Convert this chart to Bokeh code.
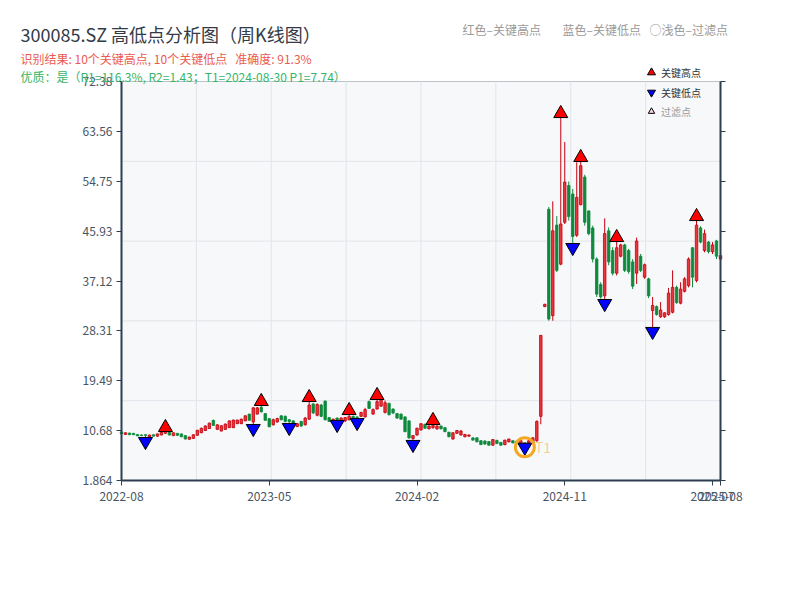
import numpy as np
from bokeh.plotting import figure
from bokeh.models import (ColumnDataSource, Range1d, FixedTicker, LinearAxis, Label,
                          Legend, LegendItem, CustomJSTickFormatter, BoxAnnotation)
from bokeh.core.properties import value
from bokeh.embed import file_html
from bokeh.resources import INLINE

# ---------------- data ----------------
open_ = [10.45, 10.00, 10.25, 10.20, 10.00, 9.90, 9.95, 9.60, 9.95, 9.70,
         9.90, 10.20, 10.40, 9.80, 10.20, 10.10, 9.80, 9.15, 9.30, 9.85,
         10.30, 10.70, 11.05, 12.50, 10.90, 10.60, 10.90, 11.20, 11.20, 11.90,
         11.90, 12.40, 13.60, 12.20, 13.60, 14.80, 13.70, 12.80, 11.70, 12.20,
         13.30, 13.20, 12.60, 12.40, 11.40, 12.30, 11.70, 12.70, 15.40, 13.40,
         15.20, 15.90, 13.00, 12.10, 12.90, 12.30, 12.40, 12.60, 13.20, 13.10,
         13.20, 13.10, 15.80, 13.60, 14.50, 15.00, 13.90, 15.50, 14.50, 13.70,
         13.60, 13.10, 12.40, 9.30, 9.90, 10.80, 11.80, 11.00, 11.20, 11.00,
         11.50, 11.20, 10.40, 9.20, 10.20, 9.90, 9.60, 9.70, 9.40, 9.40,
         8.90, 8.85, 8.75, 8.10, 8.95, 8.60, 8.20, 8.70, 8.90, 8.80,
         8.40, 8.50, 8.50, 8.60, 8.90, 13.20, 32.60, 49.80, 31.00, 47.00,
         40.10, 47.50, 54.00, 52.50, 45.20, 50.60, 55.50, 49.50, 46.50, 41.00,
         36.50, 34.50, 46.00, 42.50, 38.50, 41.50, 43.50, 42.50, 40.50, 38.50,
         41.50, 37.80, 37.50, 31.90, 32.60, 30.80, 30.80, 31.20, 31.60, 36.00,
         33.20, 35.30, 36.30, 43.00, 37.20, 46.50, 42.50, 44.00, 42.30, 44.20,
         41.00]
close_ = [10.10, 10.30, 9.95, 9.95, 9.75, 9.80, 9.85, 9.90, 9.70, 10.10,
          10.40, 10.80, 9.90, 10.30, 9.85, 9.60, 9.20, 9.55, 9.95, 10.75,
          11.10, 11.50, 12.00, 11.60, 11.70, 11.55, 11.85, 12.40, 12.55, 12.55,
          12.70, 13.30, 12.50, 14.70, 14.70, 14.00, 12.50, 11.35, 12.60, 12.80,
          12.60, 12.30, 12.30, 12.00, 11.90, 11.50, 12.90, 15.20, 13.80, 15.30,
          13.20, 12.60, 12.30, 12.70, 12.60, 12.90, 13.00, 13.20, 12.90, 13.00,
          13.90, 14.40, 14.60, 14.40, 15.80, 16.50, 15.60, 13.50, 13.80, 12.90,
          12.70, 10.50, 9.40, 9.80, 11.10, 11.90, 11.10, 11.50, 11.60, 11.50,
          11.00, 10.50, 9.60, 10.30, 10.70, 10.60, 10.00, 9.90, 9.00, 8.70,
          8.20, 8.30, 8.10, 9.10, 8.40, 8.10, 9.00, 9.20, 8.50, 8.40,
          8.90, 8.00, 8.90, 9.40, 12.30, 27.50, 33.00, 30.40, 46.00, 39.00,
          47.20, 54.60, 48.50, 45.00, 51.90, 57.50, 47.50, 45.50, 41.00, 34.80,
          34.30, 45.50, 40.50, 38.50, 43.00, 43.50, 39.00, 38.80, 36.20, 44.20,
          39.00, 40.00, 34.50, 32.80, 31.20, 32.00, 31.50, 35.00, 36.00, 33.30,
          35.70, 37.50, 41.00, 37.80, 47.00, 44.00, 45.50, 42.30, 43.50, 41.50,
          41.60]
low_ = [10.00, 9.95, 9.90, 9.90, 9.72, 9.75, 8.76, 9.55, 9.65, 9.60,
        9.85, 10.10, 9.85, 9.70, 9.75, 9.50, 9.10, 9.10, 9.25, 9.80,
        10.25, 10.65, 11.00, 11.55, 10.80, 10.55, 10.80, 11.15, 11.15, 11.85,
        11.85, 12.35, 12.45, 11.05, 13.55, 13.90, 12.45, 11.30, 11.60, 12.10,
        12.50, 12.15, 11.23, 11.90, 11.30, 11.30, 11.60, 12.60, 13.65, 13.20,
        13.05, 12.47, 12.20, 12.00, 11.76, 12.20, 12.20, 12.50, 12.80, 12.11,
        13.10, 13.00, 14.50, 13.50, 14.40, 14.90, 13.70, 13.35, 13.60, 12.76,
        12.60, 10.40, 9.23, 8.23, 9.80, 10.70, 11.00, 10.90, 11.00, 10.80,
        10.90, 10.40, 9.50, 9.05, 10.10, 9.80, 9.50, 9.60, 8.93, 8.60,
        8.15, 8.20, 8.05, 8.00, 8.30, 8.00, 8.10, 8.60, 8.45, 8.35,
        8.30, 7.74, 8.40, 8.55, 8.70, 11.80, 32.50, 30.10, 30.10, 38.70,
        39.90, 47.20, 47.80, 43.04, 44.90, 50.50, 46.90, 45.20, 40.40, 34.30,
        34.00, 33.14, 39.90, 38.10, 38.10, 41.30, 38.70, 38.40, 35.70, 36.60,
        38.70, 37.50, 34.10, 28.20, 31.00, 30.60, 30.60, 31.00, 31.40, 33.10,
        33.00, 35.10, 36.00, 36.00, 36.90, 43.80, 42.20, 42.00, 41.90, 41.00,
        40.90]
high_ = [10.50, 10.35, 10.30, 10.25, 10.05, 10.00, 10.00, 9.95, 10.00, 10.15,
         10.45, 11.23, 10.45, 10.35, 10.25, 10.15, 9.85, 9.60, 10.00, 10.80,
         11.20, 11.60, 12.10, 12.60, 11.80, 11.60, 11.90, 12.50, 12.60, 12.60,
         12.80, 13.35, 13.65, 14.85, 14.85, 15.83, 13.75, 12.85, 12.80, 12.95,
         13.35, 13.35, 12.70, 12.50, 12.00, 12.40, 13.10, 16.53, 15.50, 15.50,
         15.40, 16.00, 13.06, 12.80, 13.00, 13.06, 13.06, 14.23, 13.30, 13.20,
         14.00, 14.70, 16.00, 14.60, 16.89, 16.80, 16.00, 15.60, 14.60, 13.80,
         13.70, 13.20, 12.50, 9.90, 11.20, 12.00, 11.90, 11.60, 12.47, 11.60,
         11.55, 11.30, 10.45, 10.40, 10.80, 10.80, 10.10, 10.00, 9.50, 9.50,
         8.95, 8.95, 8.80, 9.20, 9.05, 8.65, 9.05, 9.25, 8.95, 8.85,
         8.95, 8.60, 9.00, 9.50, 12.50, 27.60, 33.10, 50.20, 51.20, 48.60,
         66.72, 61.70, 54.70, 53.40, 58.10, 58.95, 55.90, 49.60, 46.90, 41.30,
         36.90, 48.20, 46.60, 43.10, 44.81, 43.70, 43.70, 42.80, 41.00, 44.80,
         41.90, 40.20, 37.70, 34.30, 32.80, 33.40, 31.60, 35.90, 39.00, 36.30,
         36.90, 37.80, 41.30, 43.10, 48.52, 46.80, 46.20, 44.20, 44.00, 44.40,
         42.00]

key_high_idx = [11, 35, 47, 57, 64, 78, 110, 115, 124, 144]
key_low_idx = [6, 33, 42, 54, 59, 73, 101, 113, 121, 133]
t1_idx = 101
p1_value = 7.74

x_tick_idx = [0, 37, 74, 111, 148, 150]
x_tick_labels = ["2022-08", "2023-05", "2024-02", "2024-11", "2025-07", "2025-08"]
y_min, y_max = 1.864, 72.38
y_tick_labels = ["1.864", "10.68", "19.49", "28.31", "37.12", "45.93", "54.75", "63.56", "72.38"]

title_text = "300085.SZ 高低点分析图（周K线图）"
sub1_text = "识别结果: 10个关键高点, 10个关键低点\u00a0\u00a0\u00a0准确度: 91.3%"
sub2_text = "优质：是（R1=116.3%, R2=1.43；T1=2024-08-30 P1=7.74）"
hint_texts = ["红色–关键高点", "蓝色–关键低点", "○浅色–过滤点"]
legend_texts = ["关键高点", "关键低点", "过滤点"]

# ---------------- layout / styles ----------------
W, H = 784, 584                 # canvas size
PL, PR, PT, PB = 121, 720, 81, 480   # plot box in canvas pixels
FONT = value("Noto Sans CJK SC")
RED_FILL, RED_LINE = "#e8363c", "#c4000e"
GREEN = "#0d8a3c"
AXIS_COLOR = "#2c3e50"
LABEL_COLOR = "#4a5563"
GRID_COLOR = "#e1e4e9"

n = len(open_)
x_lo, x_hi = 0, n - 1
ux = (PR - PL) / (x_hi - x_lo)          # px per x unit
uy = (PB - PT) / (y_max - y_min)        # px per y unit
x_range = Range1d(x_lo - PL / ux, x_hi + (W - PR) / ux)
y_range = Range1d(y_min - (H - PB) / uy, y_max + PT / uy)

idx = list(range(n))
up = [c >= o for o, c in zip(open_, close_)]

def subset(mask):
    return ColumnDataSource(dict(
        x=[i for i in idx if mask[i]],
        o=[open_[i] for i in idx if mask[i]],
        c=[close_[i] for i in idx if mask[i]],
        l=[low_[i] for i in idx if mask[i]],
        h=[high_[i] for i in idx if mask[i]],
    ))

src_up = subset(up)
src_dn = subset([not u for u in up])

p = figure(width=W, height=H, output_backend="svg", toolbar_location=None,
           x_range=x_range, y_range=y_range,
           min_border_left=0, min_border_right=0, min_border_top=0, min_border_bottom=0)
p.background_fill_color = "white"
p.border_fill_color = "white"
p.outline_line_color = None
p.xgrid.visible = False
p.ygrid.visible = False

# plot box background and border
p.add_layout(BoxAnnotation(left=x_lo, right=x_hi, bottom=y_min, top=y_max,
                           fill_color="#f7f8fa", fill_alpha=1, line_color=AXIS_COLOR,
                           line_width=1, level="underlay"))

# grid lines: equal divisions of the plot box
gx = list(np.linspace(x_lo, x_hi, 9))[1:-1]
gy = list(np.linspace(y_min, y_max, 6))[1:-1]
p.segment(x0=gx, y0=[y_min] * len(gx), x1=gx, y1=[y_max] * len(gx),
          line_color=GRID_COLOR, line_width=1)
p.segment(x0=[x_lo] * len(gy), y0=gy, x1=[x_hi] * len(gy), y1=gy,
          line_color=GRID_COLOR, line_width=1)

# axes, placed at the plot box edges
y_ticks = list(np.linspace(y_min, y_max, len(y_tick_labels)))
ax_y = p.yaxis[0]
ax_y.fixed_location = x_lo
ax_y.bounds = (y_min, y_max)
ax_y.ticker = FixedTicker(ticks=y_ticks)
ax_y.formatter = CustomJSTickFormatter(args=dict(labels=y_tick_labels), code="return labels[index];")
ax_x = p.xaxis[0]
ax_x.fixed_location = y_min
ax_x.bounds = (x_lo, x_hi)
ax_x.ticker = FixedTicker(ticks=x_tick_idx)
ax_x.major_label_overrides = {i: s for i, s in zip(x_tick_idx, x_tick_labels)}
ax_r = LinearAxis(ticker=FixedTicker(ticks=y_ticks), fixed_location=x_hi, bounds=(y_min, y_max),
                  formatter=CustomJSTickFormatter(code="return '';"))
p.add_layout(ax_r, "right")
for ax in (ax_x, ax_y, ax_r):
    ax.axis_line_color = AXIS_COLOR
    ax.axis_line_width = 2
    ax.major_tick_line_color = AXIS_COLOR
    ax.major_tick_line_width = 1
    ax.major_tick_out = 5
    ax.major_tick_in = 0
    ax.minor_tick_line_color = None
    ax.major_label_text_color = LABEL_COLOR
    ax.major_label_text_font = "Noto Sans CJK SC"
    ax.major_label_text_font_size = "12px"
ax_y.major_label_standoff = 4
ax_x.major_label_standoff = 6

# candles
p.segment(x0="x", y0="l", x1="x", y1="h", source=src_up, line_color=RED_LINE, line_width=1)
p.vbar(x="x", bottom="o", top="c", width=0.62, source=src_up,
       fill_color=RED_FILL, line_color=RED_LINE, line_width=0.8)
p.segment(x0="x", y0="l", x1="x", y1="h", source=src_dn, line_color=GREEN, line_width=1)
p.vbar(x="x", bottom="c", top="o", width=0.62, source=src_dn,
       fill_color=GREEN, line_color=GREEN, line_width=0.8)

# key points
hi_src = ColumnDataSource(dict(x=key_high_idx, y=[high_[i] for i in key_high_idx]))
lo_src = ColumnDataSource(dict(x=key_low_idx, y=[low_[i] for i in key_low_idx]))
r_hi = p.scatter("x", "y", source=hi_src, marker="triangle", size=14,
                 fill_color="#ff0000", line_color="black", line_width=1)
r_lo = p.scatter("x", "y", source=lo_src, marker="inverted_triangle", size=14,
                 fill_color="#0000ff", line_color="black", line_width=1)
r_flt = p.scatter(x=[float("nan")], y=[float("nan")], marker="triangle", size=8,
                  fill_color="#ffd6d6", line_color="black", line_width=1)

# T1 marker
p.scatter(x=[t1_idx], y=[p1_value], marker="circle", size=19, fill_color=None,
          line_color="#f5a623", line_width=3)
p.text(x=[t1_idx], y=[p1_value], text=["T1"], x_offset=10, text_baseline="middle",
       text_color="#f5a623", text_alpha=0.5, text_font_size="14px", text_font=FONT)

# legends (top right); location is the legend's bottom-left corner in canvas pixels
ROW = 20
leg1 = Legend(items=[LegendItem(label=legend_texts[0], renderers=[r_hi]),
                     LegendItem(label=legend_texts[1], renderers=[r_lo])],
              location=(641, H - (62 + 2 * ROW)), glyph_width=20, glyph_height=ROW, spacing=0,
              padding=0, margin=0, label_standoff=0, label_text_font_size="10px",
              label_text_font="Noto Sans CJK SC", label_text_color="#333333",
              label_height=ROW, background_fill_alpha=0, border_line_color=None)
leg2 = Legend(items=[LegendItem(label=legend_texts[2], renderers=[r_flt])],
              location=(643, H - (101 + ROW)), glyph_width=16, glyph_height=ROW, spacing=0,
              padding=0, margin=0, label_standoff=2, label_text_font_size="10px",
              label_text_font="Noto Sans CJK SC", label_text_color="#999999",
              label_height=ROW, background_fill_alpha=0, border_line_color=None)
p.add_layout(leg1)
p.add_layout(leg2)

# titles
def add_label(text, px, py, size, color):
    p.add_layout(Label(x=px, y=H - py, x_units="screen", y_units="screen",
                       text=text, text_font_size=size, text_color=color,
                       text_font="Noto Sans CJK SC", text_baseline="middle", text_align="left"))

add_label(title_text, 20, 33, "18px", "#333b47")
add_label(sub1_text, 20, 58, "12px", "#ec5a4f")
add_label(sub2_text, 20, 76, "12px", "#35b56a")
for t, px in zip(hint_texts, [462, 562, 649]):
    add_label(t, px, 29, "12px", "#9a9a9a")

open("out.html", "w").write(file_html(p, INLINE))
